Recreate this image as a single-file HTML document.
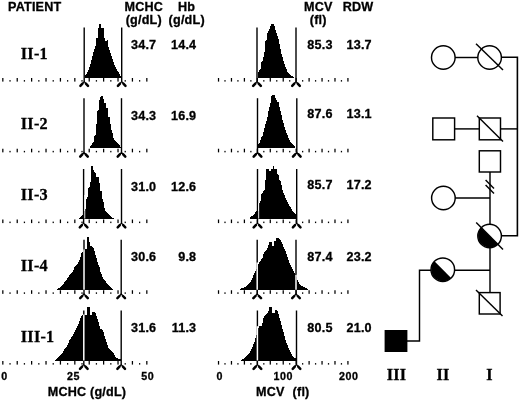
<!DOCTYPE html><html><head><meta charset="utf-8"><title>Figure</title><style>html,body{margin:0;padding:0;background:#fff}svg{display:block;will-change:transform}.s{font-family:"Liberation Sans",sans-serif;font-weight:bold;font-size:12.6px;letter-spacing:0.2px;fill:#000;stroke:#000;stroke-width:0.3px}.r{font-family:"Liberation Serif",serif;font-weight:bold;font-size:16.2px;letter-spacing:0.25px;fill:#000;stroke:#000;stroke-width:0.3px}.n{font-family:"Liberation Sans",sans-serif;font-weight:bold;font-size:10.7px;letter-spacing:0.5px;fill:#000;stroke:#000;stroke-width:0.3px}</style></head><body>
<svg width="520" height="402" viewBox="0 0 520 402">
<rect width="520" height="402" fill="#fff"/>
<rect x="2.20" y="78.00" width="1.25" height="3.6" fill="#000"/>
<rect x="9.40" y="80.10" width="1.25" height="1.5" fill="#000"/>
<rect x="16.60" y="78.00" width="1.25" height="3.6" fill="#000"/>
<rect x="23.80" y="80.10" width="1.25" height="1.5" fill="#000"/>
<rect x="31.00" y="78.00" width="1.25" height="3.6" fill="#000"/>
<rect x="38.20" y="80.10" width="1.25" height="1.5" fill="#000"/>
<rect x="45.40" y="78.00" width="1.25" height="3.6" fill="#000"/>
<rect x="52.60" y="80.10" width="1.25" height="1.5" fill="#000"/>
<rect x="59.80" y="78.00" width="1.25" height="3.6" fill="#000"/>
<rect x="67.00" y="80.10" width="1.25" height="1.5" fill="#000"/>
<rect x="74.20" y="78.00" width="1.25" height="3.6" fill="#000"/>
<rect x="81.40" y="80.10" width="1.25" height="1.5" fill="#000"/>
<rect x="88.60" y="78.00" width="1.25" height="3.6" fill="#000"/>
<rect x="95.80" y="80.10" width="1.25" height="1.5" fill="#000"/>
<rect x="103.00" y="78.00" width="1.25" height="3.6" fill="#000"/>
<rect x="110.20" y="80.10" width="1.25" height="1.5" fill="#000"/>
<rect x="117.40" y="78.00" width="1.25" height="3.6" fill="#000"/>
<rect x="124.60" y="80.10" width="1.25" height="1.5" fill="#000"/>
<rect x="131.80" y="78.00" width="1.25" height="3.6" fill="#000"/>
<rect x="139.00" y="80.10" width="1.25" height="1.5" fill="#000"/>
<rect x="146.20" y="78.00" width="1.25" height="3.6" fill="#000"/>
<rect x="217.90" y="78.00" width="1.25" height="3.6" fill="#000"/>
<rect x="224.37" y="80.10" width="1.25" height="1.5" fill="#000"/>
<rect x="230.84" y="78.00" width="1.25" height="3.6" fill="#000"/>
<rect x="237.31" y="80.10" width="1.25" height="1.5" fill="#000"/>
<rect x="243.78" y="78.00" width="1.25" height="3.6" fill="#000"/>
<rect x="250.25" y="80.10" width="1.25" height="1.5" fill="#000"/>
<rect x="256.72" y="78.00" width="1.25" height="3.6" fill="#000"/>
<rect x="263.19" y="80.10" width="1.25" height="1.5" fill="#000"/>
<rect x="269.66" y="78.00" width="1.25" height="3.6" fill="#000"/>
<rect x="276.13" y="80.10" width="1.25" height="1.5" fill="#000"/>
<rect x="282.60" y="78.00" width="1.25" height="3.6" fill="#000"/>
<rect x="289.07" y="80.10" width="1.25" height="1.5" fill="#000"/>
<rect x="295.54" y="78.00" width="1.25" height="3.6" fill="#000"/>
<rect x="302.01" y="80.10" width="1.25" height="1.5" fill="#000"/>
<rect x="308.48" y="78.00" width="1.25" height="3.6" fill="#000"/>
<rect x="314.95" y="80.10" width="1.25" height="1.5" fill="#000"/>
<rect x="321.42" y="78.00" width="1.25" height="3.6" fill="#000"/>
<rect x="327.89" y="80.10" width="1.25" height="1.5" fill="#000"/>
<rect x="334.36" y="78.00" width="1.25" height="3.6" fill="#000"/>
<rect x="340.83" y="80.10" width="1.25" height="1.5" fill="#000"/>
<rect x="347.30" y="78.00" width="1.25" height="3.6" fill="#000"/>
<path d="M85.0,77.5 L85.0,77.5 L85.0,76.0 L87.0,73.0 L88.8,69.0 L90.5,64.0 L91.8,59.0 L93.0,54.0 L94.5,49.0 L96.0,44.0 L96.0,37.5 L98.0,37.5 L98.0,27.5 L99.2,27.5 L99.2,24.0 L101.2,24.0 L101.2,27.5 L103.8,27.5 L103.8,37.5 L105.0,37.5 L105.0,40.5 L106.5,40.5 L106.5,40.0 L108.0,40.0 L108.0,44.0 L109.0,49.0 L111.0,54.0 L112.5,59.0 L114.0,64.0 L116.5,69.0 L119.0,73.0 L120.5,76.0 L122.0,77.5 L122.0,77.5 Z" fill="#000" shape-rendering="crispEdges"/>
<line x1="84.2" y1="27.5" x2="84.2" y2="81.8" stroke="#000" stroke-width="1.4"/>
<path d="M84.2,81.6 L80.4,85.8 M84.2,81.6 L88.0,85.8" stroke="#000" stroke-width="1.2" stroke-linecap="round" fill="none"/>
<path d="M82.5,83.7 L80.4,85.9 M85.9,83.7 L88.0,85.9" stroke="#000" stroke-width="2.5" stroke-linecap="round" fill="none"/>
<line x1="121.7" y1="27.5" x2="121.7" y2="81.8" stroke="#000" stroke-width="1.4"/>
<path d="M121.7,81.6 L117.9,85.8 M121.7,81.6 L125.5,85.8" stroke="#000" stroke-width="1.2" stroke-linecap="round" fill="none"/>
<path d="M120.0,83.7 L117.9,85.9 M123.4,83.7 L125.5,85.9" stroke="#000" stroke-width="2.5" stroke-linecap="round" fill="none"/>
<path d="M257.8,77.5 L257.8,77.5 L258.5,72.0 L259.5,70.0 L261.0,68.0 L261.5,62.0 L263.0,60.0 L264.0,55.0 L265.0,49.0 L265.5,41.5 L266.5,40.0 L267.0,35.0 L268.0,32.0 L269.5,29.0 L270.5,26.0 L271.5,23.8 L274.0,23.8 L274.5,26.0 L275.5,29.5 L276.5,33.0 L277.5,36.0 L278.5,39.0 L279.5,44.0 L280.5,49.0 L281.5,54.0 L283.0,59.0 L284.5,64.0 L286.0,68.0 L287.5,71.5 L289.5,74.0 L292.0,76.0 L294.0,77.5 L294.0,77.5 Z" fill="#000" shape-rendering="crispEdges"/>
<line x1="257" y1="27.5" x2="257" y2="81.8" stroke="#000" stroke-width="1.4"/>
<path d="M257,81.6 L253.2,85.8 M257,81.6 L260.8,85.8" stroke="#000" stroke-width="1.2" stroke-linecap="round" fill="none"/>
<path d="M255.3,83.7 L253.2,85.9 M258.7,83.7 L260.8,85.9" stroke="#000" stroke-width="2.5" stroke-linecap="round" fill="none"/>
<line x1="296" y1="27.5" x2="296" y2="81.8" stroke="#000" stroke-width="1.4"/>
<path d="M296,81.6 L292.2,85.8 M296,81.6 L299.8,85.8" stroke="#000" stroke-width="1.2" stroke-linecap="round" fill="none"/>
<path d="M294.3,83.7 L292.2,85.9 M297.7,83.7 L299.8,85.9" stroke="#000" stroke-width="2.5" stroke-linecap="round" fill="none"/>
<rect x="2.20" y="148.75" width="1.25" height="3.6" fill="#000"/>
<rect x="9.40" y="150.85" width="1.25" height="1.5" fill="#000"/>
<rect x="16.60" y="148.75" width="1.25" height="3.6" fill="#000"/>
<rect x="23.80" y="150.85" width="1.25" height="1.5" fill="#000"/>
<rect x="31.00" y="148.75" width="1.25" height="3.6" fill="#000"/>
<rect x="38.20" y="150.85" width="1.25" height="1.5" fill="#000"/>
<rect x="45.40" y="148.75" width="1.25" height="3.6" fill="#000"/>
<rect x="52.60" y="150.85" width="1.25" height="1.5" fill="#000"/>
<rect x="59.80" y="148.75" width="1.25" height="3.6" fill="#000"/>
<rect x="67.00" y="150.85" width="1.25" height="1.5" fill="#000"/>
<rect x="74.20" y="148.75" width="1.25" height="3.6" fill="#000"/>
<rect x="81.40" y="150.85" width="1.25" height="1.5" fill="#000"/>
<rect x="88.60" y="148.75" width="1.25" height="3.6" fill="#000"/>
<rect x="95.80" y="150.85" width="1.25" height="1.5" fill="#000"/>
<rect x="103.00" y="148.75" width="1.25" height="3.6" fill="#000"/>
<rect x="110.20" y="150.85" width="1.25" height="1.5" fill="#000"/>
<rect x="117.40" y="148.75" width="1.25" height="3.6" fill="#000"/>
<rect x="124.60" y="150.85" width="1.25" height="1.5" fill="#000"/>
<rect x="131.80" y="148.75" width="1.25" height="3.6" fill="#000"/>
<rect x="139.00" y="150.85" width="1.25" height="1.5" fill="#000"/>
<rect x="146.20" y="148.75" width="1.25" height="3.6" fill="#000"/>
<rect x="217.90" y="148.75" width="1.25" height="3.6" fill="#000"/>
<rect x="224.37" y="150.85" width="1.25" height="1.5" fill="#000"/>
<rect x="230.84" y="148.75" width="1.25" height="3.6" fill="#000"/>
<rect x="237.31" y="150.85" width="1.25" height="1.5" fill="#000"/>
<rect x="243.78" y="148.75" width="1.25" height="3.6" fill="#000"/>
<rect x="250.25" y="150.85" width="1.25" height="1.5" fill="#000"/>
<rect x="256.72" y="148.75" width="1.25" height="3.6" fill="#000"/>
<rect x="263.19" y="150.85" width="1.25" height="1.5" fill="#000"/>
<rect x="269.66" y="148.75" width="1.25" height="3.6" fill="#000"/>
<rect x="276.13" y="150.85" width="1.25" height="1.5" fill="#000"/>
<rect x="282.60" y="148.75" width="1.25" height="3.6" fill="#000"/>
<rect x="289.07" y="150.85" width="1.25" height="1.5" fill="#000"/>
<rect x="295.54" y="148.75" width="1.25" height="3.6" fill="#000"/>
<rect x="302.01" y="150.85" width="1.25" height="1.5" fill="#000"/>
<rect x="308.48" y="148.75" width="1.25" height="3.6" fill="#000"/>
<rect x="314.95" y="150.85" width="1.25" height="1.5" fill="#000"/>
<rect x="321.42" y="148.75" width="1.25" height="3.6" fill="#000"/>
<rect x="327.89" y="150.85" width="1.25" height="1.5" fill="#000"/>
<rect x="334.36" y="148.75" width="1.25" height="3.6" fill="#000"/>
<rect x="340.83" y="150.85" width="1.25" height="1.5" fill="#000"/>
<rect x="347.30" y="148.75" width="1.25" height="3.6" fill="#000"/>
<path d="M89.5,148.2 L89.5,148.2 L89.5,147.0 L92.0,144.0 L94.0,141.0 L94.5,136.0 L96.0,135.0 L96.2,124.0 L97.2,123.0 L97.5,111.0 L99.0,110.0 L99.2,101.0 L100.5,97.0 L100.8,95.8 L103.2,95.8 L103.5,99.0 L104.2,103.0 L105.5,103.5 L105.5,107.5 L108.0,108.5 L108.0,116.5 L109.5,117.5 L109.8,123.0 L111.0,124.5 L111.5,130.0 L113.0,135.0 L114.0,140.0 L116.5,142.0 L118.0,144.0 L120.0,146.0 L121.0,148.2 L121.0,148.2 Z" fill="#000" shape-rendering="crispEdges"/>
<line x1="84" y1="98.2" x2="84" y2="152.6" stroke="#000" stroke-width="1.4"/>
<path d="M84,152.3 L80.2,156.5 M84,152.3 L87.8,156.5" stroke="#000" stroke-width="1.2" stroke-linecap="round" fill="none"/>
<path d="M82.3,154.4 L80.2,156.7 M85.7,154.4 L87.8,156.7" stroke="#000" stroke-width="2.5" stroke-linecap="round" fill="none"/>
<line x1="121.5" y1="98.2" x2="121.5" y2="152.6" stroke="#000" stroke-width="1.4"/>
<path d="M121.5,152.3 L117.7,156.5 M121.5,152.3 L125.3,156.5" stroke="#000" stroke-width="1.2" stroke-linecap="round" fill="none"/>
<path d="M119.8,154.4 L117.7,156.7 M123.2,154.4 L125.3,156.7" stroke="#000" stroke-width="2.5" stroke-linecap="round" fill="none"/>
<path d="M258.0,148.2 L258.0,148.2 L258.5,144.0 L260.0,142.0 L261.0,138.0 L262.5,136.0 L263.8,131.0 L265.0,126.0 L266.5,121.0 L267.8,116.0 L268.5,111.0 L269.5,107.0 L270.8,102.0 L271.2,97.0 L272.2,94.8 L274.5,94.8 L275.0,97.0 L276.5,99.5 L277.0,102.0 L279.0,102.5 L279.5,107.0 L280.5,111.0 L281.5,115.0 L282.5,120.0 L284.0,125.0 L285.5,130.0 L287.0,134.0 L288.5,138.0 L290.0,141.0 L292.0,144.0 L294.0,145.5 L296.0,148.2 L296.0,148.2 Z" fill="#000" shape-rendering="crispEdges"/>
<line x1="257.5" y1="98.2" x2="257.5" y2="152.6" stroke="#000" stroke-width="1.4"/>
<path d="M257.5,152.3 L253.7,156.5 M257.5,152.3 L261.3,156.5" stroke="#000" stroke-width="1.2" stroke-linecap="round" fill="none"/>
<path d="M255.8,154.4 L253.7,156.7 M259.2,154.4 L261.3,156.7" stroke="#000" stroke-width="2.5" stroke-linecap="round" fill="none"/>
<line x1="296.8" y1="98.2" x2="296.8" y2="152.6" stroke="#000" stroke-width="1.4"/>
<path d="M296.8,152.3 L293.0,156.5 M296.8,152.3 L300.6,156.5" stroke="#000" stroke-width="1.2" stroke-linecap="round" fill="none"/>
<path d="M295.1,154.4 L293.0,156.7 M298.5,154.4 L300.6,156.7" stroke="#000" stroke-width="2.5" stroke-linecap="round" fill="none"/>
<rect x="2.20" y="219.50" width="1.25" height="3.6" fill="#000"/>
<rect x="9.40" y="221.60" width="1.25" height="1.5" fill="#000"/>
<rect x="16.60" y="219.50" width="1.25" height="3.6" fill="#000"/>
<rect x="23.80" y="221.60" width="1.25" height="1.5" fill="#000"/>
<rect x="31.00" y="219.50" width="1.25" height="3.6" fill="#000"/>
<rect x="38.20" y="221.60" width="1.25" height="1.5" fill="#000"/>
<rect x="45.40" y="219.50" width="1.25" height="3.6" fill="#000"/>
<rect x="52.60" y="221.60" width="1.25" height="1.5" fill="#000"/>
<rect x="59.80" y="219.50" width="1.25" height="3.6" fill="#000"/>
<rect x="67.00" y="221.60" width="1.25" height="1.5" fill="#000"/>
<rect x="74.20" y="219.50" width="1.25" height="3.6" fill="#000"/>
<rect x="81.40" y="221.60" width="1.25" height="1.5" fill="#000"/>
<rect x="88.60" y="219.50" width="1.25" height="3.6" fill="#000"/>
<rect x="95.80" y="221.60" width="1.25" height="1.5" fill="#000"/>
<rect x="103.00" y="219.50" width="1.25" height="3.6" fill="#000"/>
<rect x="110.20" y="221.60" width="1.25" height="1.5" fill="#000"/>
<rect x="117.40" y="219.50" width="1.25" height="3.6" fill="#000"/>
<rect x="124.60" y="221.60" width="1.25" height="1.5" fill="#000"/>
<rect x="131.80" y="219.50" width="1.25" height="3.6" fill="#000"/>
<rect x="139.00" y="221.60" width="1.25" height="1.5" fill="#000"/>
<rect x="146.20" y="219.50" width="1.25" height="3.6" fill="#000"/>
<rect x="217.90" y="219.50" width="1.25" height="3.6" fill="#000"/>
<rect x="224.37" y="221.60" width="1.25" height="1.5" fill="#000"/>
<rect x="230.84" y="219.50" width="1.25" height="3.6" fill="#000"/>
<rect x="237.31" y="221.60" width="1.25" height="1.5" fill="#000"/>
<rect x="243.78" y="219.50" width="1.25" height="3.6" fill="#000"/>
<rect x="250.25" y="221.60" width="1.25" height="1.5" fill="#000"/>
<rect x="256.72" y="219.50" width="1.25" height="3.6" fill="#000"/>
<rect x="263.19" y="221.60" width="1.25" height="1.5" fill="#000"/>
<rect x="269.66" y="219.50" width="1.25" height="3.6" fill="#000"/>
<rect x="276.13" y="221.60" width="1.25" height="1.5" fill="#000"/>
<rect x="282.60" y="219.50" width="1.25" height="3.6" fill="#000"/>
<rect x="289.07" y="221.60" width="1.25" height="1.5" fill="#000"/>
<rect x="295.54" y="219.50" width="1.25" height="3.6" fill="#000"/>
<rect x="302.01" y="221.60" width="1.25" height="1.5" fill="#000"/>
<rect x="308.48" y="219.50" width="1.25" height="3.6" fill="#000"/>
<rect x="314.95" y="221.60" width="1.25" height="1.5" fill="#000"/>
<rect x="321.42" y="219.50" width="1.25" height="3.6" fill="#000"/>
<rect x="327.89" y="221.60" width="1.25" height="1.5" fill="#000"/>
<rect x="334.36" y="219.50" width="1.25" height="3.6" fill="#000"/>
<rect x="340.83" y="221.60" width="1.25" height="1.5" fill="#000"/>
<rect x="347.30" y="219.50" width="1.25" height="3.6" fill="#000"/>
<path d="M79.0,219.0 L79.0,219.0 L79.0,218.5 L82.0,215.5 L84.5,211.0 L85.8,209.0 L86.0,202.0 L86.8,198.0 L88.0,196.0 L88.5,188.0 L89.8,187.0 L90.0,182.5 L91.0,182.0 L91.0,167.0 L91.2,165.8 L93.0,165.8 L93.2,169.0 L94.5,172.0 L95.8,173.5 L96.0,176.5 L98.5,177.0 L99.0,183.0 L100.0,184.0 L100.2,190.5 L101.5,191.5 L102.0,199.0 L102.5,199.0 L104.0,203.0 L104.8,211.0 L107.0,212.5 L109.0,215.0 L111.5,217.5 L115.0,219.0 L115.0,219.0 Z" fill="#000" shape-rendering="crispEdges"/>
<line x1="83.6" y1="169.0" x2="83.6" y2="223.3" stroke="#000" stroke-width="1.4"/>
<path d="M83.6,223.1 L79.8,227.3 M83.6,223.1 L87.4,227.3" stroke="#000" stroke-width="1.2" stroke-linecap="round" fill="none"/>
<path d="M81.9,225.2 L79.8,227.4 M85.3,225.2 L87.4,227.4" stroke="#000" stroke-width="2.5" stroke-linecap="round" fill="none"/>
<line x1="121.5" y1="169.0" x2="121.5" y2="223.3" stroke="#000" stroke-width="1.4"/>
<path d="M121.5,223.1 L117.7,227.3 M121.5,223.1 L125.3,227.3" stroke="#000" stroke-width="1.2" stroke-linecap="round" fill="none"/>
<path d="M119.8,225.2 L117.7,227.4 M123.2,225.2 L125.3,227.4" stroke="#000" stroke-width="2.5" stroke-linecap="round" fill="none"/>
<path d="M249.5,219.0 L249.5,219.0 L249.5,218.0 L254.0,214.5 L256.5,211.0 L259.0,211.0 L259.5,203.0 L260.5,201.0 L261.0,194.0 L263.0,192.0 L264.8,190.0 L265.0,180.5 L266.0,179.0 L266.3,170.0 L266.5,168.5 L268.8,168.5 L269.0,170.5 L270.8,170.5 L271.0,169.0 L272.5,169.0 L272.5,165.5 L274.0,165.5 L274.0,169.0 L276.5,169.0 L276.8,174.0 L279.0,175.0 L279.2,180.0 L280.5,181.5 L281.5,185.0 L282.5,190.0 L284.0,194.0 L285.5,198.0 L287.0,201.0 L289.0,205.0 L291.0,208.0 L292.5,211.0 L294.5,213.0 L296.0,215.0 L297.0,219.0 L297.0,219.0 Z" fill="#000" shape-rendering="crispEdges"/>
<line x1="257.5" y1="169.0" x2="257.5" y2="223.3" stroke="#000" stroke-width="1.4"/>
<path d="M257.5,223.1 L253.7,227.3 M257.5,223.1 L261.3,227.3" stroke="#000" stroke-width="1.2" stroke-linecap="round" fill="none"/>
<path d="M255.8,225.2 L253.7,227.4 M259.2,225.2 L261.3,227.4" stroke="#000" stroke-width="2.5" stroke-linecap="round" fill="none"/>
<line x1="296.7" y1="169.0" x2="296.7" y2="223.3" stroke="#000" stroke-width="1.4"/>
<path d="M296.7,223.1 L292.9,227.3 M296.7,223.1 L300.5,227.3" stroke="#000" stroke-width="1.2" stroke-linecap="round" fill="none"/>
<path d="M295.0,225.2 L292.9,227.4 M298.4,225.2 L300.5,227.4" stroke="#000" stroke-width="2.5" stroke-linecap="round" fill="none"/>
<rect x="2.20" y="290.25" width="1.25" height="3.6" fill="#000"/>
<rect x="9.40" y="292.35" width="1.25" height="1.5" fill="#000"/>
<rect x="16.60" y="290.25" width="1.25" height="3.6" fill="#000"/>
<rect x="23.80" y="292.35" width="1.25" height="1.5" fill="#000"/>
<rect x="31.00" y="290.25" width="1.25" height="3.6" fill="#000"/>
<rect x="38.20" y="292.35" width="1.25" height="1.5" fill="#000"/>
<rect x="45.40" y="290.25" width="1.25" height="3.6" fill="#000"/>
<rect x="52.60" y="292.35" width="1.25" height="1.5" fill="#000"/>
<rect x="59.80" y="290.25" width="1.25" height="3.6" fill="#000"/>
<rect x="67.00" y="292.35" width="1.25" height="1.5" fill="#000"/>
<rect x="74.20" y="290.25" width="1.25" height="3.6" fill="#000"/>
<rect x="81.40" y="292.35" width="1.25" height="1.5" fill="#000"/>
<rect x="88.60" y="290.25" width="1.25" height="3.6" fill="#000"/>
<rect x="95.80" y="292.35" width="1.25" height="1.5" fill="#000"/>
<rect x="103.00" y="290.25" width="1.25" height="3.6" fill="#000"/>
<rect x="110.20" y="292.35" width="1.25" height="1.5" fill="#000"/>
<rect x="117.40" y="290.25" width="1.25" height="3.6" fill="#000"/>
<rect x="124.60" y="292.35" width="1.25" height="1.5" fill="#000"/>
<rect x="131.80" y="290.25" width="1.25" height="3.6" fill="#000"/>
<rect x="139.00" y="292.35" width="1.25" height="1.5" fill="#000"/>
<rect x="146.20" y="290.25" width="1.25" height="3.6" fill="#000"/>
<rect x="217.90" y="290.25" width="1.25" height="3.6" fill="#000"/>
<rect x="224.37" y="292.35" width="1.25" height="1.5" fill="#000"/>
<rect x="230.84" y="290.25" width="1.25" height="3.6" fill="#000"/>
<rect x="237.31" y="292.35" width="1.25" height="1.5" fill="#000"/>
<rect x="243.78" y="290.25" width="1.25" height="3.6" fill="#000"/>
<rect x="250.25" y="292.35" width="1.25" height="1.5" fill="#000"/>
<rect x="256.72" y="290.25" width="1.25" height="3.6" fill="#000"/>
<rect x="263.19" y="292.35" width="1.25" height="1.5" fill="#000"/>
<rect x="269.66" y="290.25" width="1.25" height="3.6" fill="#000"/>
<rect x="276.13" y="292.35" width="1.25" height="1.5" fill="#000"/>
<rect x="282.60" y="290.25" width="1.25" height="3.6" fill="#000"/>
<rect x="289.07" y="292.35" width="1.25" height="1.5" fill="#000"/>
<rect x="295.54" y="290.25" width="1.25" height="3.6" fill="#000"/>
<rect x="302.01" y="292.35" width="1.25" height="1.5" fill="#000"/>
<rect x="308.48" y="290.25" width="1.25" height="3.6" fill="#000"/>
<rect x="314.95" y="292.35" width="1.25" height="1.5" fill="#000"/>
<rect x="321.42" y="290.25" width="1.25" height="3.6" fill="#000"/>
<rect x="327.89" y="292.35" width="1.25" height="1.5" fill="#000"/>
<rect x="334.36" y="290.25" width="1.25" height="3.6" fill="#000"/>
<rect x="340.83" y="292.35" width="1.25" height="1.5" fill="#000"/>
<rect x="347.30" y="290.25" width="1.25" height="3.6" fill="#000"/>
<path d="M56.9,289.8 L56.9,289.8 L56.9,289.2 L60.6,287.0 L63.8,283.2 L66.9,279.0 L70.0,274.5 L73.1,272.0 L74.4,267.0 L78.1,263.2 L80.0,258.9 L81.2,253.9 L82.8,251.4 L83.4,249.0 L85.0,249.0 L85.0,248.5 L87.2,248.5 L87.5,237.2 L89.0,237.2 L89.4,242.0 L90.6,245.8 L92.5,247.0 L94.4,249.5 L94.8,254.5 L96.2,256.4 L97.5,262.0 L99.4,267.0 L100.6,272.0 L102.5,277.0 L105.0,280.8 L106.9,283.2 L110.0,287.0 L113.1,289.2 L113.1,289.8 L113.1,289.8 Z" fill="#000" shape-rendering="crispEdges"/>
<line x1="84" y1="239.8" x2="84" y2="294.1" stroke="#000" stroke-width="1.4"/>
<path d="M84,293.9 L80.2,298.1 M84,293.9 L87.8,298.1" stroke="#000" stroke-width="1.2" stroke-linecap="round" fill="none"/>
<path d="M82.3,296.0 L80.2,298.2 M85.7,296.0 L87.8,298.2" stroke="#000" stroke-width="2.5" stroke-linecap="round" fill="none"/>
<line x1="121.2" y1="239.8" x2="121.2" y2="294.1" stroke="#000" stroke-width="1.4"/>
<path d="M121.2,293.9 L117.4,298.1 M121.2,293.9 L125.0,298.1" stroke="#000" stroke-width="1.2" stroke-linecap="round" fill="none"/>
<path d="M119.5,296.0 L117.4,298.2 M122.9,296.0 L125.0,298.2" stroke="#000" stroke-width="2.5" stroke-linecap="round" fill="none"/>
<path d="M240.1,289.8 L240.1,289.8 L240.1,289.0 L243.7,287.6 L247.2,285.9 L250.1,282.3 L252.2,278.8 L254.4,273.1 L256.2,270.2 L257.2,268.0 L258.3,264.0 L259.3,262.6 L260.8,260.4 L262.9,256.9 L263.6,253.3 L265.7,251.2 L267.9,246.9 L269.3,243.4 L269.6,242.0 L271.9,242.0 L272.1,246.2 L273.6,246.2 L274.3,241.2 L276.1,241.2 L276.4,238.4 L279.3,238.4 L280.7,240.5 L282.4,244.1 L283.8,247.6 L285.7,251.9 L287.1,256.2 L288.5,260.4 L290.3,264.7 L291.7,267.5 L293.0,270.5 L295.6,274.5 L297.5,280.2 L299.2,283.7 L302.0,285.9 L304.9,287.6 L307.7,289.0 L307.7,289.8 L307.7,289.8 Z" fill="#000" shape-rendering="crispEdges"/>
<line x1="257.2" y1="239.8" x2="257.2" y2="294.1" stroke="#000" stroke-width="1.4"/>
<path d="M257.2,293.9 L253.4,298.1 M257.2,293.9 L261.0,298.1" stroke="#000" stroke-width="1.2" stroke-linecap="round" fill="none"/>
<path d="M255.5,296.0 L253.4,298.2 M258.9,296.0 L261.0,298.2" stroke="#000" stroke-width="2.5" stroke-linecap="round" fill="none"/>
<line x1="296" y1="239.8" x2="296" y2="294.1" stroke="#000" stroke-width="1.4"/>
<path d="M296,293.9 L292.2,298.1 M296,293.9 L299.8,298.1" stroke="#000" stroke-width="1.2" stroke-linecap="round" fill="none"/>
<path d="M294.3,296.0 L292.2,298.2 M297.7,296.0 L299.8,298.2" stroke="#000" stroke-width="2.5" stroke-linecap="round" fill="none"/>
<rect x="2.20" y="361.00" width="1.25" height="3.6" fill="#000"/>
<rect x="9.40" y="363.10" width="1.25" height="1.5" fill="#000"/>
<rect x="16.60" y="361.00" width="1.25" height="3.6" fill="#000"/>
<rect x="23.80" y="363.10" width="1.25" height="1.5" fill="#000"/>
<rect x="31.00" y="361.00" width="1.25" height="3.6" fill="#000"/>
<rect x="38.20" y="363.10" width="1.25" height="1.5" fill="#000"/>
<rect x="45.40" y="361.00" width="1.25" height="3.6" fill="#000"/>
<rect x="52.60" y="363.10" width="1.25" height="1.5" fill="#000"/>
<rect x="59.80" y="361.00" width="1.25" height="3.6" fill="#000"/>
<rect x="67.00" y="363.10" width="1.25" height="1.5" fill="#000"/>
<rect x="74.20" y="361.00" width="1.25" height="3.6" fill="#000"/>
<rect x="81.40" y="363.10" width="1.25" height="1.5" fill="#000"/>
<rect x="88.60" y="361.00" width="1.25" height="3.6" fill="#000"/>
<rect x="95.80" y="363.10" width="1.25" height="1.5" fill="#000"/>
<rect x="103.00" y="361.00" width="1.25" height="3.6" fill="#000"/>
<rect x="110.20" y="363.10" width="1.25" height="1.5" fill="#000"/>
<rect x="117.40" y="361.00" width="1.25" height="3.6" fill="#000"/>
<rect x="124.60" y="363.10" width="1.25" height="1.5" fill="#000"/>
<rect x="131.80" y="361.00" width="1.25" height="3.6" fill="#000"/>
<rect x="139.00" y="363.10" width="1.25" height="1.5" fill="#000"/>
<rect x="146.20" y="361.00" width="1.25" height="3.6" fill="#000"/>
<rect x="217.90" y="361.00" width="1.25" height="3.6" fill="#000"/>
<rect x="224.37" y="363.10" width="1.25" height="1.5" fill="#000"/>
<rect x="230.84" y="361.00" width="1.25" height="3.6" fill="#000"/>
<rect x="237.31" y="363.10" width="1.25" height="1.5" fill="#000"/>
<rect x="243.78" y="361.00" width="1.25" height="3.6" fill="#000"/>
<rect x="250.25" y="363.10" width="1.25" height="1.5" fill="#000"/>
<rect x="256.72" y="361.00" width="1.25" height="3.6" fill="#000"/>
<rect x="263.19" y="363.10" width="1.25" height="1.5" fill="#000"/>
<rect x="269.66" y="361.00" width="1.25" height="3.6" fill="#000"/>
<rect x="276.13" y="363.10" width="1.25" height="1.5" fill="#000"/>
<rect x="282.60" y="361.00" width="1.25" height="3.6" fill="#000"/>
<rect x="289.07" y="363.10" width="1.25" height="1.5" fill="#000"/>
<rect x="295.54" y="361.00" width="1.25" height="3.6" fill="#000"/>
<rect x="302.01" y="363.10" width="1.25" height="1.5" fill="#000"/>
<rect x="308.48" y="361.00" width="1.25" height="3.6" fill="#000"/>
<rect x="314.95" y="363.10" width="1.25" height="1.5" fill="#000"/>
<rect x="321.42" y="361.00" width="1.25" height="3.6" fill="#000"/>
<rect x="327.89" y="363.10" width="1.25" height="1.5" fill="#000"/>
<rect x="334.36" y="361.00" width="1.25" height="3.6" fill="#000"/>
<rect x="340.83" y="363.10" width="1.25" height="1.5" fill="#000"/>
<rect x="347.30" y="361.00" width="1.25" height="3.6" fill="#000"/>
<path d="M55.0,360.5 L55.0,360.5 L55.0,359.9 L58.4,357.6 L61.7,354.3 L64.4,349.6 L67.8,344.8 L69.8,339.5 L73.2,335.2 L75.2,330.5 L77.2,326.9 L79.2,322.2 L80.6,317.5 L82.9,314.1 L84.6,314.8 L87.0,314.8 L87.3,306.7 L89.6,306.7 L90.0,314.8 L92.0,314.8 L92.3,311.7 L95.0,311.7 L96.1,314.8 L97.4,318.2 L98.8,323.5 L100.1,328.9 L102.1,329.6 L103.3,331.5 L104.8,336.9 L106.5,342.1 L108.2,347.5 L110.9,350.9 L113.6,353.6 L115.6,357.0 L118.3,359.0 L121.2,358.5 L121.2,360.5 L121.2,360.5 Z" fill="#000" shape-rendering="crispEdges"/>
<line x1="83.8" y1="310.5" x2="83.8" y2="364.8" stroke="#000" stroke-width="1.4"/>
<path d="M83.8,364.6 L80.0,368.8 M83.8,364.6 L87.6,368.8" stroke="#000" stroke-width="1.2" stroke-linecap="round" fill="none"/>
<path d="M82.1,366.7 L80.0,368.9 M85.5,366.7 L87.6,368.9" stroke="#000" stroke-width="2.5" stroke-linecap="round" fill="none"/>
<line x1="121.2" y1="310.5" x2="121.2" y2="364.8" stroke="#000" stroke-width="1.4"/>
<path d="M121.2,364.6 L117.4,368.8 M121.2,364.6 L125.0,368.8" stroke="#000" stroke-width="1.2" stroke-linecap="round" fill="none"/>
<path d="M119.5,366.7 L117.4,368.9 M122.9,366.7 L125.0,368.9" stroke="#000" stroke-width="2.5" stroke-linecap="round" fill="none"/>
<path d="M240.8,360.5 L240.8,360.5 L240.8,359.9 L245.4,357.6 L248.1,354.9 L250.8,350.9 L252.8,346.2 L254.8,340.8 L256.2,336.2 L257.2,333.0 L258.2,328.9 L258.9,326.2 L262.2,325.6 L262.9,319.5 L264.2,316.1 L266.3,314.1 L268.3,312.1 L269.2,307.4 L271.6,307.4 L272.3,312.8 L274.6,312.8 L275.0,310.1 L277.3,310.1 L278.4,314.1 L279.7,318.2 L281.1,323.5 L282.4,328.9 L283.5,332.2 L284.4,335.4 L285.8,340.8 L287.8,346.2 L289.8,350.9 L291.8,354.9 L293.9,357.6 L296.5,358.3 L296.5,360.5 L296.5,360.5 Z" fill="#000" shape-rendering="crispEdges"/>
<line x1="257.4" y1="310.5" x2="257.4" y2="364.8" stroke="#000" stroke-width="1.4"/>
<path d="M257.4,364.6 L253.6,368.8 M257.4,364.6 L261.2,368.8" stroke="#000" stroke-width="1.2" stroke-linecap="round" fill="none"/>
<path d="M255.7,366.7 L253.6,368.9 M259.1,366.7 L261.2,368.9" stroke="#000" stroke-width="2.5" stroke-linecap="round" fill="none"/>
<line x1="296.5" y1="310.5" x2="296.5" y2="364.8" stroke="#000" stroke-width="1.4"/>
<path d="M296.5,364.6 L292.7,368.8 M296.5,364.6 L300.3,368.8" stroke="#000" stroke-width="1.2" stroke-linecap="round" fill="none"/>
<path d="M294.8,366.7 L292.7,368.9 M298.2,366.7 L300.3,368.9" stroke="#000" stroke-width="2.5" stroke-linecap="round" fill="none"/>
<line x1="84" y1="249.3" x2="84" y2="289.8" stroke="#fff" stroke-width="1.5"/>
<line x1="257.2" y1="262.5" x2="257.2" y2="289.8" stroke="#fff" stroke-width="1.5"/>
<line x1="296" y1="274.8" x2="296" y2="289.8" stroke="#fff" stroke-width="1.5"/>
<line x1="83.8" y1="314.6" x2="83.8" y2="360.5" stroke="#fff" stroke-width="1.5"/>
<line x1="257.4" y1="326.2" x2="257.4" y2="360.5" stroke="#fff" stroke-width="1.5"/>
<line x1="84.75" y1="195" x2="84.75" y2="218.6" stroke="#fff" stroke-width="0.9"/>
<line x1="258.65" y1="203" x2="258.65" y2="218.6" stroke="#fff" stroke-width="0.9"/>
<text x="8" y="11" class="s" text-anchor="start">PATIENT</text>
<text x="143.75" y="11" class="s" text-anchor="middle">MCHC</text>
<text x="143.75" y="23.7" class="s" text-anchor="middle">(g/dL)</text>
<text x="186.5" y="11" class="s" text-anchor="middle">Hb</text>
<text x="186.7" y="23.7" class="s" text-anchor="middle">(g/dL)</text>
<text x="318.25" y="11" class="s" text-anchor="middle">MCV</text>
<text x="318.2" y="23.7" class="s" text-anchor="middle">(fl)</text>
<text x="358" y="11" class="s" text-anchor="middle">RDW</text>
<text x="131" y="49.0" class="s" text-anchor="start">34.7</text>
<text x="196.3" y="49.0" class="s" text-anchor="end">14.4</text>
<text x="307.3" y="49.0" class="s" text-anchor="start">85.3</text>
<text x="346.5" y="49.0" class="s" text-anchor="start">13.7</text>
<text x="20.8" y="58.5" class="r" text-anchor="start">II-1</text>
<text x="131" y="120.25" class="s" text-anchor="start">34.3</text>
<text x="196.3" y="120.25" class="s" text-anchor="end">16.9</text>
<text x="307.3" y="118.05" class="s" text-anchor="start">87.6</text>
<text x="346.5" y="118.05" class="s" text-anchor="start">13.1</text>
<text x="20.8" y="129.25" class="r" text-anchor="start">II-2</text>
<text x="131" y="191.0" class="s" text-anchor="start">31.0</text>
<text x="196.3" y="191.0" class="s" text-anchor="end">12.6</text>
<text x="307.3" y="188.5" class="s" text-anchor="start">85.7</text>
<text x="346.5" y="188.5" class="s" text-anchor="start">17.2</text>
<text x="20.8" y="200.0" class="r" text-anchor="start">II-3</text>
<text x="131" y="261.25" class="s" text-anchor="start">30.6</text>
<text x="196.3" y="261.25" class="s" text-anchor="end">9.8</text>
<text x="307.3" y="260.75" class="s" text-anchor="start">87.4</text>
<text x="346.5" y="260.75" class="s" text-anchor="start">23.2</text>
<text x="20.8" y="271.35" class="r" text-anchor="start">II-4</text>
<text x="131" y="332.0" class="s" text-anchor="start">31.6</text>
<text x="196.3" y="332.0" class="s" text-anchor="end">11.3</text>
<text x="307.3" y="332.0" class="s" text-anchor="start">80.5</text>
<text x="346.5" y="332.0" class="s" text-anchor="start">21.0</text>
<text x="20.8" y="341.5" class="r" text-anchor="start">III-1</text>
<text x="1.2" y="380" class="n" text-anchor="start">0</text>
<text x="67" y="380" class="n" text-anchor="start">25</text>
<text x="141.2" y="380" class="n" text-anchor="start">50</text>
<text x="216.5" y="380" class="n" text-anchor="start">0</text>
<text x="273.6" y="380" class="n" text-anchor="start">100</text>
<text x="339" y="380" class="n" text-anchor="start">200</text>
<text x="47.8" y="396" class="s" text-anchor="start">MCHC (g/dL)</text>
<text x="256" y="396" class="s" text-anchor="start">MCV</text>
<text x="292.6" y="396" class="s" text-anchor="start">(fl)</text>
<text x="396.5" y="379.5" class="r" text-anchor="middle">III</text>
<text x="443" y="379.5" class="r" text-anchor="middle">II</text>
<text x="489.6" y="379.5" class="r" text-anchor="middle">I</text>
<g stroke="#000" stroke-width="1.45" fill="none">
<circle cx="443.3" cy="57.5" r="11.8"/>
<circle cx="489.6" cy="57.5" r="11.8"/>
<line x1="455" y1="57.5" x2="478" y2="57.5"/>
<line x1="476" y1="43.8" x2="503" y2="70"/>
<polyline points="501.4,57.3 517.4,57.3 517.4,235.8 501.4,235.8" stroke-width="1.6"/>
<rect x="432.8" y="118" width="21.8" height="21.8"/>
<rect x="479.3" y="118" width="21.2" height="21.8"/>
<line x1="454.6" y1="128.9" x2="479.3" y2="128.9"/>
<line x1="500.5" y1="128.9" x2="517.4" y2="128.9"/>
<line x1="477" y1="115.8" x2="503" y2="141.4"/>
<rect x="479.3" y="150.8" width="21.2" height="21.2"/>
<line x1="490" y1="172" x2="490" y2="224"/>
<line x1="485.6" y1="180" x2="494" y2="188.4"/><line x1="485.6" y1="185" x2="494" y2="193.4"/>
<circle cx="443.4" cy="198" r="11.8"/>
<line x1="455.2" y1="198" x2="490" y2="198"/>
<circle cx="489.6" cy="236" r="11.8"/>
<line x1="476.2" y1="222.5" x2="503" y2="249.5"/>
<line x1="490" y1="247.8" x2="490" y2="292.5"/>
<circle cx="442.8" cy="269.7" r="11.8"/>
<line x1="454.6" y1="270.3" x2="490" y2="270.3"/>
<polyline points="431,270.3 419.5,270.3 419.5,341 407,341"/>
<rect x="479.3" y="292.6" width="20.8" height="21.4"/>
<line x1="476" y1="290" x2="502.5" y2="316"/>
</g>
<path d="M481.26,227.66 A11.8,11.8 0 0 0 497.94,244.34 Z" fill="#000"/>
<path d="M434.46,261.36 A11.8,11.8 0 0 0 451.14,278.04 Z" fill="#000"/>
<rect x="384.6" y="330" width="22.8" height="22" fill="#000"/>
</svg></body></html>
